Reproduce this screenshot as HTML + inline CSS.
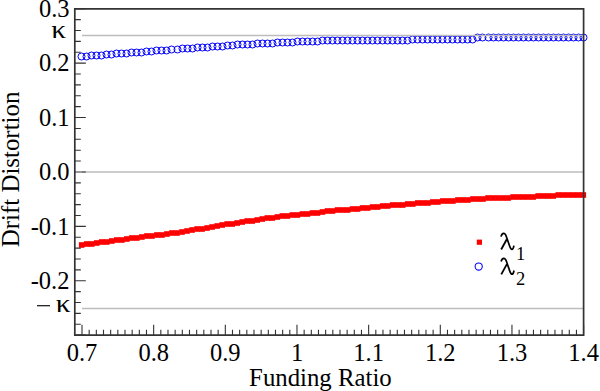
<!DOCTYPE html>
<html><head><meta charset="utf-8"><style>
html,body{margin:0;padding:0;background:#fff;width:600px;height:391px;overflow:hidden}
svg{display:block}
</style></head><body>
<svg width="600" height="391" viewBox="0 0 600 391"><rect width="600" height="391" fill="#fff"/><rect x="78.90" y="242.20" width="5.6" height="5.6" fill="#ff0000"/><rect x="83.92" y="241.20" width="5.6" height="5.6" fill="#ff0000"/><rect x="88.93" y="241.20" width="5.6" height="5.6" fill="#ff0000"/><rect x="93.95" y="240.20" width="5.6" height="5.6" fill="#ff0000"/><rect x="98.96" y="239.20" width="5.6" height="5.6" fill="#ff0000"/><rect x="103.98" y="239.20" width="5.6" height="5.6" fill="#ff0000"/><rect x="109.00" y="238.20" width="5.6" height="5.6" fill="#ff0000"/><rect x="114.01" y="237.20" width="5.6" height="5.6" fill="#ff0000"/><rect x="119.03" y="237.20" width="5.6" height="5.6" fill="#ff0000"/><rect x="124.05" y="236.20" width="5.6" height="5.6" fill="#ff0000"/><rect x="129.06" y="235.20" width="5.6" height="5.6" fill="#ff0000"/><rect x="134.08" y="235.20" width="5.6" height="5.6" fill="#ff0000"/><rect x="139.09" y="234.20" width="5.6" height="5.6" fill="#ff0000"/><rect x="144.11" y="233.20" width="5.6" height="5.6" fill="#ff0000"/><rect x="149.13" y="233.20" width="5.6" height="5.6" fill="#ff0000"/><rect x="154.14" y="232.20" width="5.6" height="5.6" fill="#ff0000"/><rect x="159.16" y="232.20" width="5.6" height="5.6" fill="#ff0000"/><rect x="164.18" y="231.20" width="5.6" height="5.6" fill="#ff0000"/><rect x="169.19" y="230.20" width="5.6" height="5.6" fill="#ff0000"/><rect x="174.21" y="230.20" width="5.6" height="5.6" fill="#ff0000"/><rect x="179.22" y="229.20" width="5.6" height="5.6" fill="#ff0000"/><rect x="184.24" y="228.20" width="5.6" height="5.6" fill="#ff0000"/><rect x="189.26" y="227.20" width="5.6" height="5.6" fill="#ff0000"/><rect x="194.27" y="226.20" width="5.6" height="5.6" fill="#ff0000"/><rect x="199.29" y="226.20" width="5.6" height="5.6" fill="#ff0000"/><rect x="204.31" y="225.20" width="5.6" height="5.6" fill="#ff0000"/><rect x="209.32" y="224.20" width="5.6" height="5.6" fill="#ff0000"/><rect x="214.34" y="223.20" width="5.6" height="5.6" fill="#ff0000"/><rect x="219.35" y="222.20" width="5.6" height="5.6" fill="#ff0000"/><rect x="224.37" y="221.20" width="5.6" height="5.6" fill="#ff0000"/><rect x="229.39" y="221.20" width="5.6" height="5.6" fill="#ff0000"/><rect x="234.40" y="220.20" width="5.6" height="5.6" fill="#ff0000"/><rect x="239.42" y="219.20" width="5.6" height="5.6" fill="#ff0000"/><rect x="244.43" y="218.20" width="5.6" height="5.6" fill="#ff0000"/><rect x="249.45" y="218.20" width="5.6" height="5.6" fill="#ff0000"/><rect x="254.47" y="217.20" width="5.6" height="5.6" fill="#ff0000"/><rect x="259.48" y="216.20" width="5.6" height="5.6" fill="#ff0000"/><rect x="264.50" y="215.20" width="5.6" height="5.6" fill="#ff0000"/><rect x="269.52" y="215.20" width="5.6" height="5.6" fill="#ff0000"/><rect x="274.53" y="214.20" width="5.6" height="5.6" fill="#ff0000"/><rect x="279.55" y="213.20" width="5.6" height="5.6" fill="#ff0000"/><rect x="284.56" y="213.20" width="5.6" height="5.6" fill="#ff0000"/><rect x="289.58" y="212.20" width="5.6" height="5.6" fill="#ff0000"/><rect x="294.60" y="212.20" width="5.6" height="5.6" fill="#ff0000"/><rect x="299.61" y="211.20" width="5.6" height="5.6" fill="#ff0000"/><rect x="304.63" y="211.20" width="5.6" height="5.6" fill="#ff0000"/><rect x="309.65" y="210.20" width="5.6" height="5.6" fill="#ff0000"/><rect x="314.66" y="210.20" width="5.6" height="5.6" fill="#ff0000"/><rect x="319.68" y="209.20" width="5.6" height="5.6" fill="#ff0000"/><rect x="324.69" y="208.20" width="5.6" height="5.6" fill="#ff0000"/><rect x="329.71" y="208.20" width="5.6" height="5.6" fill="#ff0000"/><rect x="334.73" y="207.20" width="5.6" height="5.6" fill="#ff0000"/><rect x="339.74" y="207.20" width="5.6" height="5.6" fill="#ff0000"/><rect x="344.76" y="207.20" width="5.6" height="5.6" fill="#ff0000"/><rect x="349.77" y="206.20" width="5.6" height="5.6" fill="#ff0000"/><rect x="354.79" y="206.20" width="5.6" height="5.6" fill="#ff0000"/><rect x="359.81" y="205.20" width="5.6" height="5.6" fill="#ff0000"/><rect x="364.82" y="205.20" width="5.6" height="5.6" fill="#ff0000"/><rect x="369.84" y="204.20" width="5.6" height="5.6" fill="#ff0000"/><rect x="374.86" y="204.20" width="5.6" height="5.6" fill="#ff0000"/><rect x="379.87" y="203.20" width="5.6" height="5.6" fill="#ff0000"/><rect x="384.89" y="203.20" width="5.6" height="5.6" fill="#ff0000"/><rect x="389.90" y="202.20" width="5.6" height="5.6" fill="#ff0000"/><rect x="394.92" y="202.20" width="5.6" height="5.6" fill="#ff0000"/><rect x="399.94" y="202.20" width="5.6" height="5.6" fill="#ff0000"/><rect x="404.95" y="201.20" width="5.6" height="5.6" fill="#ff0000"/><rect x="409.97" y="201.20" width="5.6" height="5.6" fill="#ff0000"/><rect x="414.99" y="200.20" width="5.6" height="5.6" fill="#ff0000"/><rect x="420.00" y="200.20" width="5.6" height="5.6" fill="#ff0000"/><rect x="425.02" y="200.20" width="5.6" height="5.6" fill="#ff0000"/><rect x="430.03" y="199.20" width="5.6" height="5.6" fill="#ff0000"/><rect x="435.05" y="199.20" width="5.6" height="5.6" fill="#ff0000"/><rect x="440.07" y="198.20" width="5.6" height="5.6" fill="#ff0000"/><rect x="445.08" y="198.20" width="5.6" height="5.6" fill="#ff0000"/><rect x="450.10" y="198.20" width="5.6" height="5.6" fill="#ff0000"/><rect x="455.12" y="197.20" width="5.6" height="5.6" fill="#ff0000"/><rect x="460.13" y="197.20" width="5.6" height="5.6" fill="#ff0000"/><rect x="465.15" y="197.20" width="5.6" height="5.6" fill="#ff0000"/><rect x="470.16" y="196.20" width="5.6" height="5.6" fill="#ff0000"/><rect x="475.18" y="196.20" width="5.6" height="5.6" fill="#ff0000"/><rect x="480.20" y="196.20" width="5.6" height="5.6" fill="#ff0000"/><rect x="485.21" y="195.20" width="5.6" height="5.6" fill="#ff0000"/><rect x="490.23" y="195.20" width="5.6" height="5.6" fill="#ff0000"/><rect x="495.24" y="195.20" width="5.6" height="5.6" fill="#ff0000"/><rect x="500.26" y="195.20" width="5.6" height="5.6" fill="#ff0000"/><rect x="505.28" y="195.20" width="5.6" height="5.6" fill="#ff0000"/><rect x="510.29" y="194.20" width="5.6" height="5.6" fill="#ff0000"/><rect x="515.31" y="194.20" width="5.6" height="5.6" fill="#ff0000"/><rect x="520.33" y="194.20" width="5.6" height="5.6" fill="#ff0000"/><rect x="525.34" y="194.20" width="5.6" height="5.6" fill="#ff0000"/><rect x="530.36" y="194.20" width="5.6" height="5.6" fill="#ff0000"/><rect x="535.37" y="193.20" width="5.6" height="5.6" fill="#ff0000"/><rect x="540.39" y="193.20" width="5.6" height="5.6" fill="#ff0000"/><rect x="545.41" y="193.20" width="5.6" height="5.6" fill="#ff0000"/><rect x="550.42" y="193.20" width="5.6" height="5.6" fill="#ff0000"/><rect x="555.44" y="192.20" width="5.6" height="5.6" fill="#ff0000"/><rect x="560.46" y="192.20" width="5.6" height="5.6" fill="#ff0000"/><rect x="565.47" y="192.20" width="5.6" height="5.6" fill="#ff0000"/><rect x="570.49" y="192.20" width="5.6" height="5.6" fill="#ff0000"/><rect x="575.50" y="192.20" width="5.6" height="5.6" fill="#ff0000"/><rect x="580.52" y="192.20" width="5.6" height="5.6" fill="#ff0000"/><circle cx="81.5" cy="56.5" r="3.5" fill="none" stroke="#0000ff" stroke-width="1.0"/><circle cx="86.5" cy="56.5" r="3.5" fill="none" stroke="#0000ff" stroke-width="1.0"/><circle cx="91.5" cy="55.5" r="3.5" fill="none" stroke="#0000ff" stroke-width="1.0"/><circle cx="96.5" cy="55.5" r="3.5" fill="none" stroke="#0000ff" stroke-width="1.0"/><circle cx="101.5" cy="55.5" r="3.5" fill="none" stroke="#0000ff" stroke-width="1.0"/><circle cx="106.5" cy="54.5" r="3.5" fill="none" stroke="#0000ff" stroke-width="1.0"/><circle cx="111.5" cy="54.5" r="3.5" fill="none" stroke="#0000ff" stroke-width="1.0"/><circle cx="116.5" cy="53.5" r="3.5" fill="none" stroke="#0000ff" stroke-width="1.0"/><circle cx="121.5" cy="53.5" r="3.5" fill="none" stroke="#0000ff" stroke-width="1.0"/><circle cx="126.5" cy="53.5" r="3.5" fill="none" stroke="#0000ff" stroke-width="1.0"/><circle cx="131.5" cy="52.5" r="3.5" fill="none" stroke="#0000ff" stroke-width="1.0"/><circle cx="136.5" cy="52.5" r="3.5" fill="none" stroke="#0000ff" stroke-width="1.0"/><circle cx="141.5" cy="52.5" r="3.5" fill="none" stroke="#0000ff" stroke-width="1.0"/><circle cx="146.5" cy="51.5" r="3.5" fill="none" stroke="#0000ff" stroke-width="1.0"/><circle cx="151.5" cy="51.5" r="3.5" fill="none" stroke="#0000ff" stroke-width="1.0"/><circle cx="156.5" cy="50.5" r="3.5" fill="none" stroke="#0000ff" stroke-width="1.0"/><circle cx="161.5" cy="50.5" r="3.5" fill="none" stroke="#0000ff" stroke-width="1.0"/><circle cx="166.5" cy="50.5" r="3.5" fill="none" stroke="#0000ff" stroke-width="1.0"/><circle cx="171.5" cy="49.5" r="3.5" fill="none" stroke="#0000ff" stroke-width="1.0"/><circle cx="177.5" cy="49.5" r="3.5" fill="none" stroke="#0000ff" stroke-width="1.0"/><circle cx="182.5" cy="48.5" r="3.5" fill="none" stroke="#0000ff" stroke-width="1.0"/><circle cx="187.5" cy="48.5" r="3.5" fill="none" stroke="#0000ff" stroke-width="1.0"/><circle cx="192.5" cy="48.5" r="3.5" fill="none" stroke="#0000ff" stroke-width="1.0"/><circle cx="197.5" cy="47.5" r="3.5" fill="none" stroke="#0000ff" stroke-width="1.0"/><circle cx="202.5" cy="47.5" r="3.5" fill="none" stroke="#0000ff" stroke-width="1.0"/><circle cx="207.5" cy="47.5" r="3.5" fill="none" stroke="#0000ff" stroke-width="1.0"/><circle cx="212.5" cy="46.5" r="3.5" fill="none" stroke="#0000ff" stroke-width="1.0"/><circle cx="217.5" cy="46.5" r="3.5" fill="none" stroke="#0000ff" stroke-width="1.0"/><circle cx="222.5" cy="46.5" r="3.5" fill="none" stroke="#0000ff" stroke-width="1.0"/><circle cx="227.5" cy="45.5" r="3.5" fill="none" stroke="#0000ff" stroke-width="1.0"/><circle cx="232.5" cy="45.5" r="3.5" fill="none" stroke="#0000ff" stroke-width="1.0"/><circle cx="237.5" cy="44.5" r="3.5" fill="none" stroke="#0000ff" stroke-width="1.0"/><circle cx="242.5" cy="44.5" r="3.5" fill="none" stroke="#0000ff" stroke-width="1.0"/><circle cx="247.5" cy="44.5" r="3.5" fill="none" stroke="#0000ff" stroke-width="1.0"/><circle cx="252.5" cy="44.5" r="3.5" fill="none" stroke="#0000ff" stroke-width="1.0"/><circle cx="257.5" cy="43.5" r="3.5" fill="none" stroke="#0000ff" stroke-width="1.0"/><circle cx="262.5" cy="43.5" r="3.5" fill="none" stroke="#0000ff" stroke-width="1.0"/><circle cx="267.5" cy="43.5" r="3.5" fill="none" stroke="#0000ff" stroke-width="1.0"/><circle cx="272.5" cy="43.5" r="3.5" fill="none" stroke="#0000ff" stroke-width="1.0"/><circle cx="277.5" cy="42.5" r="3.5" fill="none" stroke="#0000ff" stroke-width="1.0"/><circle cx="282.5" cy="42.5" r="3.5" fill="none" stroke="#0000ff" stroke-width="1.0"/><circle cx="287.5" cy="42.5" r="3.5" fill="none" stroke="#0000ff" stroke-width="1.0"/><circle cx="292.5" cy="42.5" r="3.5" fill="none" stroke="#0000ff" stroke-width="1.0"/><circle cx="297.5" cy="41.5" r="3.5" fill="none" stroke="#0000ff" stroke-width="1.0"/><circle cx="302.5" cy="41.5" r="3.5" fill="none" stroke="#0000ff" stroke-width="1.0"/><circle cx="307.5" cy="41.5" r="3.5" fill="none" stroke="#0000ff" stroke-width="1.0"/><circle cx="312.5" cy="41.5" r="3.5" fill="none" stroke="#0000ff" stroke-width="1.0"/><circle cx="317.5" cy="41.5" r="3.5" fill="none" stroke="#0000ff" stroke-width="1.0"/><circle cx="322.5" cy="40.5" r="3.5" fill="none" stroke="#0000ff" stroke-width="1.0"/><circle cx="327.5" cy="40.5" r="3.5" fill="none" stroke="#0000ff" stroke-width="1.0"/><circle cx="332.5" cy="40.5" r="3.5" fill="none" stroke="#0000ff" stroke-width="1.0"/><circle cx="337.5" cy="40.5" r="3.5" fill="none" stroke="#0000ff" stroke-width="1.0"/><circle cx="342.5" cy="40.5" r="3.5" fill="none" stroke="#0000ff" stroke-width="1.0"/><circle cx="347.5" cy="40.5" r="3.5" fill="none" stroke="#0000ff" stroke-width="1.0"/><circle cx="352.5" cy="40.5" r="3.5" fill="none" stroke="#0000ff" stroke-width="1.0"/><circle cx="357.5" cy="40.5" r="3.5" fill="none" stroke="#0000ff" stroke-width="1.0"/><circle cx="362.5" cy="40.5" r="3.5" fill="none" stroke="#0000ff" stroke-width="1.0"/><circle cx="367.5" cy="40.5" r="3.5" fill="none" stroke="#0000ff" stroke-width="1.0"/><circle cx="372.5" cy="40.5" r="3.5" fill="none" stroke="#0000ff" stroke-width="1.0"/><circle cx="377.5" cy="40.5" r="3.5" fill="none" stroke="#0000ff" stroke-width="1.0"/><circle cx="382.5" cy="40.5" r="3.5" fill="none" stroke="#0000ff" stroke-width="1.0"/><circle cx="387.5" cy="40.5" r="3.5" fill="none" stroke="#0000ff" stroke-width="1.0"/><circle cx="392.5" cy="40.5" r="3.5" fill="none" stroke="#0000ff" stroke-width="1.0"/><circle cx="397.5" cy="40.5" r="3.5" fill="none" stroke="#0000ff" stroke-width="1.0"/><circle cx="402.5" cy="40.5" r="3.5" fill="none" stroke="#0000ff" stroke-width="1.0"/><circle cx="407.5" cy="40.5" r="3.5" fill="none" stroke="#0000ff" stroke-width="1.0"/><circle cx="412.5" cy="39.5" r="3.5" fill="none" stroke="#0000ff" stroke-width="1.0"/><circle cx="417.5" cy="39.5" r="3.5" fill="none" stroke="#0000ff" stroke-width="1.0"/><circle cx="422.5" cy="39.5" r="3.5" fill="none" stroke="#0000ff" stroke-width="1.0"/><circle cx="427.5" cy="39.5" r="3.5" fill="none" stroke="#0000ff" stroke-width="1.0"/><circle cx="432.5" cy="39.5" r="3.5" fill="none" stroke="#0000ff" stroke-width="1.0"/><circle cx="437.5" cy="39.5" r="3.5" fill="none" stroke="#0000ff" stroke-width="1.0"/><circle cx="442.5" cy="39.5" r="3.5" fill="none" stroke="#0000ff" stroke-width="1.0"/><circle cx="447.5" cy="39.5" r="3.5" fill="none" stroke="#0000ff" stroke-width="1.0"/><circle cx="452.5" cy="39.5" r="3.5" fill="none" stroke="#0000ff" stroke-width="1.0"/><circle cx="457.5" cy="39.5" r="3.5" fill="none" stroke="#0000ff" stroke-width="1.0"/><circle cx="462.5" cy="39.5" r="3.5" fill="none" stroke="#0000ff" stroke-width="1.0"/><circle cx="467.5" cy="39.5" r="3.5" fill="none" stroke="#0000ff" stroke-width="1.0"/><circle cx="472.5" cy="39.5" r="3.5" fill="none" stroke="#0000ff" stroke-width="1.0"/><circle cx="477.5" cy="37.5" r="3.5" fill="none" stroke="#0000ff" stroke-width="1.0"/><circle cx="482.5" cy="37.5" r="3.5" fill="none" stroke="#0000ff" stroke-width="1.0"/><circle cx="488.5" cy="37.5" r="3.5" fill="none" stroke="#0000ff" stroke-width="1.0"/><circle cx="493.5" cy="37.5" r="3.5" fill="none" stroke="#0000ff" stroke-width="1.0"/><circle cx="498.5" cy="37.5" r="3.5" fill="none" stroke="#0000ff" stroke-width="1.0"/><circle cx="503.5" cy="37.5" r="3.5" fill="none" stroke="#0000ff" stroke-width="1.0"/><circle cx="508.5" cy="37.5" r="3.5" fill="none" stroke="#0000ff" stroke-width="1.0"/><circle cx="513.5" cy="37.5" r="3.5" fill="none" stroke="#0000ff" stroke-width="1.0"/><circle cx="518.5" cy="37.5" r="3.5" fill="none" stroke="#0000ff" stroke-width="1.0"/><circle cx="523.5" cy="37.5" r="3.5" fill="none" stroke="#0000ff" stroke-width="1.0"/><circle cx="528.5" cy="37.5" r="3.5" fill="none" stroke="#0000ff" stroke-width="1.0"/><circle cx="533.5" cy="37.5" r="3.5" fill="none" stroke="#0000ff" stroke-width="1.0"/><circle cx="538.5" cy="37.5" r="3.5" fill="none" stroke="#0000ff" stroke-width="1.0"/><circle cx="543.5" cy="37.5" r="3.5" fill="none" stroke="#0000ff" stroke-width="1.0"/><circle cx="548.5" cy="37.5" r="3.5" fill="none" stroke="#0000ff" stroke-width="1.0"/><circle cx="553.5" cy="37.5" r="3.5" fill="none" stroke="#0000ff" stroke-width="1.0"/><circle cx="558.5" cy="37.5" r="3.5" fill="none" stroke="#0000ff" stroke-width="1.0"/><circle cx="563.5" cy="37.5" r="3.5" fill="none" stroke="#0000ff" stroke-width="1.0"/><circle cx="568.5" cy="37.5" r="3.5" fill="none" stroke="#0000ff" stroke-width="1.0"/><circle cx="573.5" cy="37.5" r="3.5" fill="none" stroke="#0000ff" stroke-width="1.0"/><circle cx="578.5" cy="37.5" r="3.5" fill="none" stroke="#0000ff" stroke-width="1.0"/><circle cx="583.5" cy="37.5" r="3.5" fill="none" stroke="#0000ff" stroke-width="1.0"/><line x1="82.0" y1="35.5" x2="583.6" y2="35.5" stroke="#bdbdbd" stroke-width="1.4"/><line x1="82.0" y1="172.0" x2="583.6" y2="172.0" stroke="#bdbdbd" stroke-width="1.4"/><line x1="82.0" y1="308.5" x2="583.6" y2="308.5" stroke="#bdbdbd" stroke-width="1.4"/><path d="M74.8 8.8H583.6V335.2H74.8Z" fill="none" stroke="#333" stroke-width="1.7"/><path d="M74.8 335.15h11 M74.8 324.27h6 M74.8 313.39h6 M74.8 302.51h6 M74.8 291.63h6 M74.8 280.75h11 M74.8 269.87h6 M74.8 258.99h6 M74.8 248.11h6 M74.8 237.23h6 M74.8 226.35h11 M74.8 215.47h6 M74.8 204.59h6 M74.8 193.71h6 M74.8 182.83h6 M74.8 171.95h11 M74.8 161.07h6 M74.8 150.19h6 M74.8 139.31h6 M74.8 128.43h6 M74.8 117.55h11 M74.8 106.67h6 M74.8 95.79h6 M74.8 84.91h6 M74.8 74.03h6 M74.8 63.15h11 M74.8 52.27h6 M74.8 41.39h6 M74.8 30.51h6 M74.8 19.63h6 M74.8 8.75h11 M82.00 335.2v-10.5 M89.17 335.2v-5.5 M96.33 335.2v-5.5 M103.50 335.2v-5.5 M110.66 335.2v-5.5 M117.83 335.2v-5.5 M125.00 335.2v-5.5 M132.16 335.2v-5.5 M139.33 335.2v-5.5 M146.49 335.2v-5.5 M153.66 335.2v-10.5 M160.83 335.2v-5.5 M167.99 335.2v-5.5 M175.16 335.2v-5.5 M182.32 335.2v-5.5 M189.49 335.2v-5.5 M196.66 335.2v-5.5 M203.82 335.2v-5.5 M210.99 335.2v-5.5 M218.15 335.2v-5.5 M225.32 335.2v-10.5 M232.49 335.2v-5.5 M239.65 335.2v-5.5 M246.82 335.2v-5.5 M253.98 335.2v-5.5 M261.15 335.2v-5.5 M268.32 335.2v-5.5 M275.48 335.2v-5.5 M282.65 335.2v-5.5 M289.81 335.2v-5.5 M296.98 335.2v-10.5 M304.15 335.2v-5.5 M311.31 335.2v-5.5 M318.48 335.2v-5.5 M325.64 335.2v-5.5 M332.81 335.2v-5.5 M339.98 335.2v-5.5 M347.14 335.2v-5.5 M354.31 335.2v-5.5 M361.47 335.2v-5.5 M368.64 335.2v-10.5 M375.81 335.2v-5.5 M382.97 335.2v-5.5 M390.14 335.2v-5.5 M397.30 335.2v-5.5 M404.47 335.2v-5.5 M411.64 335.2v-5.5 M418.80 335.2v-5.5 M425.97 335.2v-5.5 M433.13 335.2v-5.5 M440.30 335.2v-10.5 M447.47 335.2v-5.5 M454.63 335.2v-5.5 M461.80 335.2v-5.5 M468.96 335.2v-5.5 M476.13 335.2v-5.5 M483.30 335.2v-5.5 M490.46 335.2v-5.5 M497.63 335.2v-5.5 M504.79 335.2v-5.5 M511.96 335.2v-10.5 M519.13 335.2v-5.5 M526.29 335.2v-5.5 M533.46 335.2v-5.5 M540.62 335.2v-5.5 M547.79 335.2v-5.5 M554.96 335.2v-5.5 M562.12 335.2v-5.5 M569.29 335.2v-5.5 M576.45 335.2v-5.5 M583.62 335.2v-10.5" stroke="#333" stroke-width="1.1" fill="none"/><text x="69.5" y="16.95" text-anchor="end" font-family='"Liberation Serif", serif' font-size="24.5" fill="#000" >0.3</text><text x="69.5" y="71.34999999999998" text-anchor="end" font-family='"Liberation Serif", serif' font-size="24.5" fill="#000" >0.2</text><text x="69.5" y="125.74999999999999" text-anchor="end" font-family='"Liberation Serif", serif' font-size="24.5" fill="#000" >0.1</text><text x="69.5" y="180.14999999999998" text-anchor="end" font-family='"Liberation Serif", serif' font-size="24.5" fill="#000" >0.0</text><text x="69.5" y="234.54999999999998" text-anchor="end" font-family='"Liberation Serif", serif' font-size="24.5" fill="#000" >-0.1</text><text x="69.5" y="288.95" text-anchor="end" font-family='"Liberation Serif", serif' font-size="24.5" fill="#000" >-0.2</text><text transform="translate(51.3 37.6) scale(1.2 1)" font-family='"Liberation Serif", serif' font-size="24.5" fill="#000">&#954;</text><text transform="translate(55.8 312.1) scale(1.2 1)" font-family='"Liberation Serif", serif' font-size="24.5" fill="#000">&#954;</text><rect x="37" y="305.1" width="13" height="1.2" fill="#111"/><text x="82.0" y="360.8" text-anchor="middle" font-family='"Liberation Serif", serif' font-size="24.5" fill="#000" >0.7</text><text x="153.7" y="360.8" text-anchor="middle" font-family='"Liberation Serif", serif' font-size="24.5" fill="#000" >0.8</text><text x="225.3" y="360.8" text-anchor="middle" font-family='"Liberation Serif", serif' font-size="24.5" fill="#000" >0.9</text><text x="297.0" y="360.8" text-anchor="middle" font-family='"Liberation Serif", serif' font-size="24.5" fill="#000" >1</text><text x="368.6" y="360.8" text-anchor="middle" font-family='"Liberation Serif", serif' font-size="24.5" fill="#000" >1.1</text><text x="440.3" y="360.8" text-anchor="middle" font-family='"Liberation Serif", serif' font-size="24.5" fill="#000" >1.2</text><text x="512.0" y="360.8" text-anchor="middle" font-family='"Liberation Serif", serif' font-size="24.5" fill="#000" >1.3</text><text x="583.6" y="360.8" text-anchor="middle" font-family='"Liberation Serif", serif' font-size="24.5" fill="#000" >1.4</text><text x="320.4" y="385.7" text-anchor="middle" font-family='"Liberation Serif", serif' font-size="24.8" fill="#000" >Funding Ratio</text><text x="0" y="0" transform="translate(18.6 169.4) rotate(-90)" text-anchor="middle" font-family='"Liberation Serif", serif' font-size="24.9" fill="#000">Drift Distortion</text><rect x="476.8" y="239.6" width="5.2" height="5.2" fill="#ff0000"/><circle cx="478.7" cy="266.5" r="3.6" fill="none" stroke="#0000ff" stroke-width="1.05"/><g><path d="M501,236.6 C501.5,234.5 502.5,233.4 503.7,233.4 C505,233.4 505.7,234.6 506.3,236.4 L509.6,246 C510.3,248 511,249.3 512,249.3 C512.9,249.3 513.5,248 513.9,245.6" fill="none" stroke="#000" stroke-width="1.7"/><path d="M506.8,239.2 L501.2,249.5" fill="none" stroke="#000" stroke-width="1.8"/></g><g transform="translate(0.1 24.9)"><path d="M501,236.6 C501.5,234.5 502.5,233.4 503.7,233.4 C505,233.4 505.7,234.6 506.3,236.4 L509.6,246 C510.3,248 511,249.3 512,249.3 C512.9,249.3 513.5,248 513.9,245.6" fill="none" stroke="#000" stroke-width="1.7"/><path d="M506.8,239.2 L501.2,249.5" fill="none" stroke="#000" stroke-width="1.8"/></g><text x="516.0" y="259.7" text-anchor="start" font-family='"Liberation Serif", serif' font-size="18.5" fill="#000" >1</text><text x="516.0" y="284.9" text-anchor="start" font-family='"Liberation Serif", serif' font-size="18.5" fill="#000" >2</text></svg>
</body></html>
